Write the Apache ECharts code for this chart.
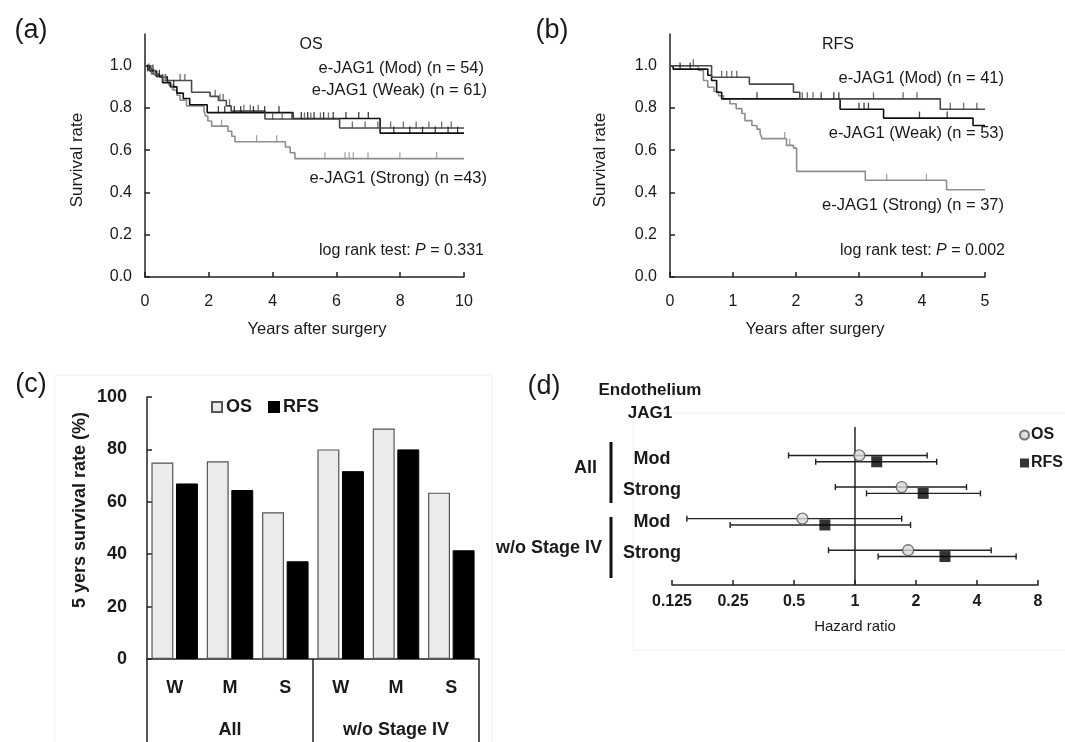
<!DOCTYPE html>
<html>
<head>
<meta charset="utf-8">
<script src="https://cdn.jsdelivr.net/npm/echarts@6.0.0/dist/echarts.min.js"></script>
<style>
html,body{margin:0;padding:0;background:#fff;}
#c{width:1065px;height:742px;}
</style>
</head>
<body>
<div id="c"></div>
<script>
// ---------- DATA ----------
// (a) OS Kaplan-Meier steps [years, survival]
const osMod = [[0,1],[0.1,0.98],[0.25,0.96],[0.45,0.945],[0.7,0.93],[1.46,0.874],[2.04,0.855],[2.3,0.835],[2.55,0.81],[2.7,0.785],[3.76,0.748],[6.1,0.705],[10,0.705]];
const osWeak = [[0,1],[0.15,0.975],[0.35,0.95],[0.55,0.92],[0.8,0.9],[1.0,0.87],[1.2,0.845],[1.4,0.815],[1.95,0.778],[4.64,0.75],[7.37,0.681],[10,0.681]];
const osStrong = [[0,1],[0.2,0.977],[0.35,0.953],[0.55,0.93],[0.75,0.907],[0.9,0.884],[1.0,0.86],[1.1,0.837],[1.3,0.81],[1.85,0.786],[1.9,0.762],[1.97,0.738],[2.09,0.714],[2.6,0.69],[2.72,0.666],[2.82,0.64],[4.4,0.615],[4.55,0.588],[4.7,0.56],[10,0.56]];
const osModCensor = [[0.12,0.98],[0.2,0.96],[0.38,0.945],[0.55,0.93],[0.65,0.93],[1.1,0.93],[1.25,0.93],[2.2,0.855],[2.35,0.835],[2.45,0.835],[2.65,0.81],[3.1,0.785],[3.3,0.785],[3.55,0.785],[4.0,0.748],[4.3,0.748],[4.6,0.748],[5.0,0.748],[5.2,0.748],[5.5,0.748],[5.75,0.748],[6.5,0.705],[6.9,0.705],[7.3,0.705],[7.7,0.705],[8.1,0.705],[8.5,0.705],[8.9,0.705],[9.3,0.705],[9.6,0.705]];
const osWeakCensor = [[0.08,0.975],[0.25,0.975],[0.45,0.95],[0.7,0.92],[0.9,0.9],[2.3,0.778],[2.5,0.778],[2.8,0.778],[3.0,0.778],[3.4,0.778],[3.75,0.778],[4.2,0.778],[4.9,0.75],[5.1,0.75],[5.3,0.75],[5.6,0.75],[5.9,0.75],[6.3,0.75],[6.7,0.75],[7.0,0.75],[7.8,0.681],[8.3,0.681],[8.7,0.681],[9.1,0.681],[9.5,0.681],[9.8,0.681]];
const osStrongCensor = [[0.3,0.953],[0.6,0.93],[0.85,0.884],[2.4,0.714],[3.5,0.64],[4.13,0.64],[5.64,0.56],[6.27,0.56],[6.4,0.56],[6.53,0.56],[6.99,0.56],[7.99,0.56],[9.14,0.56]];

// (b) RFS Kaplan-Meier steps
const rfsMod = [[0,1],[0.66,0.945],[1.26,0.913],[1.96,0.874],[2.06,0.843],[4.29,0.794],[5,0.794]];
const rfsWeak = [[0,1],[0.05,0.984],[0.6,0.955],[0.66,0.93],[0.74,0.874],[0.82,0.843],[2.7,0.794],[3.39,0.752],[4.81,0.717],[5,0.717]];
const rfsStrong = [[0,1],[0.45,0.977],[0.53,0.93],[0.6,0.898],[0.7,0.878],[0.77,0.858],[0.85,0.843],[0.95,0.82],[1.05,0.797],[1.14,0.774],[1.19,0.74],[1.3,0.717],[1.38,0.7],[1.43,0.68],[1.46,0.655],[1.85,0.623],[1.96,0.61],[2.01,0.5],[3.1,0.458],[4.39,0.413],[5,0.413]];
const rfsModCensor = [[0.37,1],[0.82,0.945],[0.9,0.945],[0.98,0.945],[1.06,0.945],[2.1,0.843],[2.18,0.843],[2.27,0.843],[3.23,0.843],[3.7,0.843],[3.92,0.843],[4.45,0.794],[4.66,0.794],[4.87,0.794]];
const rfsWeakCensor = [[0.16,0.984],[0.32,0.984],[1.38,0.843],[2.4,0.843],[2.6,0.843],[2.68,0.843],[3.0,0.794],[3.08,0.794],[3.15,0.794],[3.96,0.752],[4.4,0.752]];
const rfsStrongCensor = [[1.82,0.655],[1.9,0.623],[3.44,0.458],[4.07,0.458]];

// (c) 5-year survival rates
const barCats = ['W','M','S','W','M','S'];
const groupCats = ['All','w/o Stage IV'];
const osRate = [75,75.5,56,80,88,63.5];
const rfsRate = [67,64.5,37.3,71.7,80,41.5];

// (d) hazard ratios
const forestRowLabels = ['Mod','Strong','Mod','Strong'];
const osHR = [1.05,1.70,0.55,1.83];
const osLow = [0.47,0.80,0.148,0.74];
const osHigh = [2.27,3.55,1.70,4.70];
const rfsHR = [1.28,2.17,0.71,2.78];
const rfsLow = [0.64,1.14,0.242,1.30];
const rfsHigh = [2.53,4.16,1.88,6.24];

// ---------- STYLE ----------
const FF = 'Liberation Sans, Arial, Helvetica, sans-serif';
const TXT = '#1a1a1a';
const cMod = '#4a4a4a', cWeak = '#111111', cStrong = '#8e8e8e';

function kmLine(data, color, xi){
  return {type:'line', xAxisIndex:xi, yAxisIndex:xi, data:data, step:'end', showSymbol:false, symbol:'none',
    lineStyle:{color:color, width:1.6}, itemStyle:{color:color}, silent:true, z:3};
}
function kmCensor(data, color, xi){
  return {type:'scatter', xAxisIndex:xi, yAxisIndex:xi, data:data, symbol:'rect', symbolSize:[1.3,7], symbolOffset:[0,-3],
    itemStyle:{color:color}, silent:true, z:4};
}
function kmX(idx, max){
  return {type:'value', gridIndex:idx, min:0, max:max, interval: max===10?2:1,
    axisLine:{show:true, onZero:false, lineStyle:{color:'#222', width:1.5}},
    axisTick:{show:true, inside:true, length:5, lineStyle:{color:'#222', width:1.5}},
    axisLabel:{fontFamily:FF, fontSize:16, color:TXT, margin:17},
    splitLine:{show:false}};
}
function kmY(idx){
  return {type:'value', gridIndex:idx, min:0, max:1.15,
    axisLine:{show:true, onZero:false, lineStyle:{color:'#222', width:1.5}},
    axisTick:{show:true, inside:true, length:5, lineStyle:{color:'#222', width:1.5}, customValues:[0,0.2,0.4,0.6,0.8,1.0]},
    axisLabel:{fontFamily:FF, fontSize:16, color:TXT, margin:13, customValues:[0,0.2,0.4,0.6,0.8,1.0], formatter:v=>v.toFixed(1)},
    splitLine:{show:false}};
}

const osPts = osHR.map((v,i)=>[v, i-0.1]);
const rfsPts = rfsHR.map((v,i)=>[v, i+0.1]);
const osErr = osHR.map((v,i)=>[osLow[i], osHigh[i], i-0.1]);
const rfsErr = rfsHR.map((v,i)=>[rfsLow[i], rfsHigh[i], i+0.1]);

function errRender(params, api){
  const lo = api.coord([api.value(0), api.value(2)]);
  const hi = api.coord([api.value(1), api.value(2)]);
  const st = {stroke:'#222', lineWidth:1.4};
  return {type:'group', children:[
    {type:'line', shape:{x1:lo[0], y1:lo[1], x2:hi[0], y2:hi[1]}, style:st},
    {type:'line', shape:{x1:lo[0], y1:lo[1]-3, x2:lo[0], y2:lo[1]+3}, style:st},
    {type:'line', shape:{x1:hi[0], y1:hi[1]-3, x2:hi[0], y2:hi[1]+3}, style:st}
  ]};
}

function txt(x, y, text, size, opts){
  opts = opts || {};
  return {type:'text', x:x, y:y, rotation:opts.rot||0, z:10, silent:true,
    style:{text:text, fill:TXT, fontFamily:FF, fontSize:size, fontWeight:opts.bold?'bold':'normal',
      align:opts.align||'center', verticalAlign:'middle', rich:opts.rich}};
}
const richP = (s)=>({it:{fontStyle:'italic', fontFamily:FF, fontSize:s, fill:TXT}});

const option = {
  backgroundColor:'#fff',
  animation:false,
  grid:[
    {left:145, top:34, width:319, height:243},
    {left:670, top:34, width:315, height:243},
    {left:147, top:397, width:332, height:262},
    {left:672, top:427, width:366, height:158}
  ],
  xAxis:[
    kmX(0,10),
    kmX(1,5),
    {type:'category', gridIndex:2, data:barCats, position:'bottom',
      axisLine:{show:true, onZero:false, lineStyle:{color:'#222', width:1.5}}, axisTick:{show:false},
      axisLabel:{fontFamily:FF, fontSize:18, fontWeight:'bold', color:TXT, margin:20}},
    {type:'category', gridIndex:2, data:groupCats, position:'bottom',
      axisLine:{show:false, onZero:false}, axisTick:{show:true, length:90, interval:0, lineStyle:{color:'#222', width:1.5}},
      axisLabel:{fontFamily:FF, fontSize:18, fontWeight:'bold', color:TXT, margin:62}},
    {type:'log', logBase:2, gridIndex:3, min:0.125, max:8, position:'bottom',
      axisLine:{show:true, onZero:false, lineStyle:{color:'#222', width:1.5}},
      axisTick:{show:true, inside:true, length:5, lineStyle:{color:'#222', width:1.5}},
      axisLabel:{fontFamily:FF, fontSize:16, fontWeight:'bold', color:TXT, margin:9, formatter:v=>String(v)},
      splitLine:{show:false}, minorTick:{show:false},
      name:'Hazard ratio', nameLocation:'middle', nameGap:34, nameTextStyle:{fontFamily:FF, fontSize:15, color:TXT}}
  ],
  yAxis:[
    kmY(0),
    kmY(1),
    {type:'value', gridIndex:2, min:0, max:100, interval:20,
      axisLine:{show:true, onZero:false, lineStyle:{color:'#222', width:1.5}},
      axisTick:{show:true, inside:true, length:5, lineStyle:{color:'#222', width:1.5}},
      axisLabel:{fontFamily:FF, fontSize:18, fontWeight:'bold', color:TXT, margin:20},
      splitLine:{show:false}},
    {type:'value', gridIndex:3, min:-1, max:4, interval:1, inverse:true,
      axisLine:{show:false, onZero:false}, axisTick:{show:false}, splitLine:{show:false},
      axisLabel:{fontFamily:FF, fontSize:18, fontWeight:'bold', color:TXT, margin:20, align:'center', padding:[0,0,10,0],
        formatter:v=>(v>=0 && v<forestRowLabels.length ? forestRowLabels[v] : '')}}
  ],
  legend:[
    {data:['OS','RFS'], left:206, top:393, icon:'rect', itemWidth:10, itemHeight:10, itemGap:16,
      textStyle:{fontFamily:FF, fontSize:18, fontWeight:'bold', color:TXT, padding:[0,0,0,-1]}},
    {data:['HR OS','HR RFS'], orient:'vertical', left:1014, top:422, itemWidth:9, itemHeight:9, itemGap:12,
      formatter:n=>n.replace('HR ',''),
      textStyle:{fontFamily:FF, fontSize:16, fontWeight:'bold', color:TXT, padding:[0,0,0,-3]}}
  ],
  series:[
    kmLine(osStrong, cStrong, 0), kmLine(osWeak, cWeak, 0), kmLine(osMod, cMod, 0),
    kmCensor(osStrongCensor, cStrong, 0), kmCensor(osWeakCensor, cWeak, 0), kmCensor(osModCensor, cMod, 0),
    kmLine(rfsStrong, cStrong, 1), kmLine(rfsWeak, cWeak, 1), kmLine(rfsMod, cMod, 1),
    kmCensor(rfsStrongCensor, cStrong, 1), kmCensor(rfsWeakCensor, cWeak, 1), kmCensor(rfsModCensor, cMod, 1),
    {name:'OS', type:'bar', xAxisIndex:2, yAxisIndex:2, data:osRate, barCategoryGap:'16%', barGap:'12%',
      itemStyle:{color:'#ebebeb', borderColor:'#555', borderWidth:1.2}},
    {name:'RFS', type:'bar', xAxisIndex:2, yAxisIndex:2, data:rfsRate,
      itemStyle:{color:'#000', borderColor:'#000', borderWidth:1}},
    {type:'custom', xAxisIndex:4, yAxisIndex:3, data:osErr, renderItem:errRender, encode:{x:[0,1], y:2}, z:2,
      markLine:{silent:true, symbol:'none', label:{show:false}, lineStyle:{color:'#222', width:1.5, type:'solid'}, data:[{xAxis:1}]}},
    {type:'custom', xAxisIndex:4, yAxisIndex:3, data:rfsErr, renderItem:errRender, encode:{x:[0,1], y:2}, z:2},
    {name:'HR OS', type:'scatter', xAxisIndex:4, yAxisIndex:3, data:osPts, symbol:'circle', symbolSize:11,
      itemStyle:{color:'#d8d8d8', borderColor:'#555', borderWidth:1.3}, z:5},
    {name:'HR RFS', type:'scatter', xAxisIndex:4, yAxisIndex:3, data:rfsPts, symbol:'rect', symbolSize:11,
      itemStyle:{color:'#000'}, z:5}
  ],
  graphic:[
    {type:'rect', shape:{x:55, y:375, width:437, height:380}, style:{fill:'none', stroke:'#f1f1f1', lineWidth:1}, silent:true, z:0},
    {type:'rect', shape:{x:633, y:413, width:440, height:237}, style:{fill:'none', stroke:'#f1f1f1', lineWidth:1}, silent:true, z:0},
    txt(31, 31, '(a)', 27),
    txt(552, 31, '(b)', 27),
    txt(31, 385, '(c)', 27),
    txt(544, 387, '(d)', 27),
    txt(311, 45, 'OS', 16),
    txt(838, 45, 'RFS', 16),
    txt(484, 68, 'e-JAG1 (Mod) (n = 54)', 16.5, {align:'right'}),
    txt(487, 90, 'e-JAG1 (Weak) (n = 61)', 16.5, {align:'right'}),
    txt(487, 178, 'e-JAG1 (Strong) (n =43)', 16.5, {align:'right'}),
    txt(484, 251, 'log rank test: {it|P} = 0.331', 16, {align:'right', rich:richP(16)}),
    txt(1004, 78, 'e-JAG1 (Mod) (n = 41)', 16.5, {align:'right'}),
    txt(1004, 133, 'e-JAG1 (Weak) (n = 53)', 16.5, {align:'right'}),
    txt(1004, 205, 'e-JAG1 (Strong) (n = 37)', 16.5, {align:'right'}),
    txt(1005, 251, 'log rank test: {it|P} = 0.002', 16, {align:'right', rich:richP(16)}),
    txt(77, 160, 'Survival rate', 17, {rot:Math.PI/2}),
    txt(600, 160, 'Survival rate', 17, {rot:Math.PI/2}),
    txt(317, 329, 'Years after surgery', 16.5),
    txt(815, 329, 'Years after surgery', 16.5),
    txt(80, 510, '5 yers survival rate (%)', 18, {rot:Math.PI/2, bold:true}),
    txt(650, 390, 'Endothelium', 17, {bold:true}),
    txt(650, 413, 'JAG1', 17, {bold:true}),
    txt(597, 468, 'All', 18, {align:'right', bold:true}),
    txt(602, 548, 'w/o Stage IV', 18, {align:'right', bold:true}),
    {type:'line', shape:{x1:611, y1:442, x2:611, y2:503}, style:{stroke:'#111', lineWidth:3}, silent:true},
    {type:'line', shape:{x1:611, y1:517, x2:611, y2:578}, style:{stroke:'#111', lineWidth:3}, silent:true}
  ]
};

const chart = echarts.init(document.getElementById('c'), null, {renderer:'canvas'});
chart.setOption(option);
</script>
</body>
</html>
